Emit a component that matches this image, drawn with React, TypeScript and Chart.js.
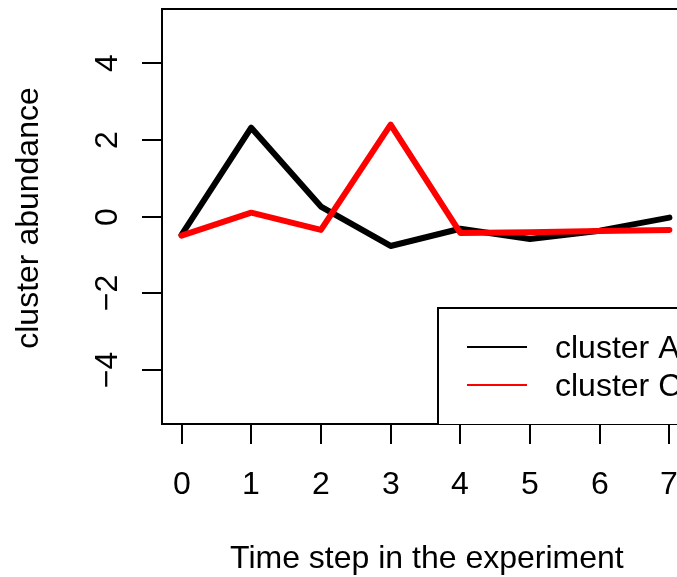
import React, { useEffect, useRef } from "react";
import { Chart, registerables } from "chart.js";

Chart.register(...registerables);

const timeSteps = [0, 1, 2, 3, 4, 5, 6, 7];
const clusterA = [-0.48, 2.32, 0.26, -0.77, -0.32, -0.59, -0.37, -0.03];
const clusterC = [-0.5, 0.1, -0.35, 2.4, -0.43, -0.41, -0.38, -0.35];
const xTickValues = [0, 1, 2, 3, 4, 5, 6, 7];
const yTickValues = [-4, -2, 0, 2, 4];
const legendLabels = ["cluster A", "cluster C"];
const seriesColors = ["#000000", "#ff0000"];
const xTitle = "Time step in the experiment";
const yTitle = "cluster abundance";

const FONT = '"Liberation Sans", Arial, Helvetica, sans-serif';
const FS = 32;

const axesPlugin = {
  id: "rAxes",
  afterDraw(chart: any) {
    const ctx = chart.ctx as CanvasRenderingContext2D;
    const { left, top, bottom, right } = chart.chartArea;
    const xs = chart.scales.x;
    const ys = chart.scales.y;
    ctx.save();
    ctx.strokeStyle = "#000";
    ctx.fillStyle = "#000";
    ctx.lineWidth = 2;
    ctx.lineCap = "butt";
    ctx.beginPath();
    ctx.moveTo(right + 20, top);
    ctx.lineTo(left, top);
    ctx.lineTo(left, bottom);
    ctx.lineTo(right + 20, bottom);
    ctx.stroke();

    ctx.font = `${FS}px ${FONT}`;
    ctx.textAlign = "center";
    ctx.textBaseline = "alphabetic";
    xTickValues.forEach((v) => {
      const px = Math.round(xs.getPixelForValue(v));
      ctx.beginPath();
      ctx.moveTo(px, bottom);
      ctx.lineTo(px, bottom + 20);
      ctx.stroke();
      ctx.fillText(String(v), px, 494);
    });
    yTickValues.forEach((v) => {
      const py = Math.round(ys.getPixelForValue(v));
      ctx.beginPath();
      ctx.moveTo(left, py);
      ctx.lineTo(left - 20, py);
      ctx.stroke();
      ctx.save();
      ctx.translate(117, py);
      ctx.rotate(-Math.PI / 2);
      ctx.textAlign = "center";
      ctx.fillText(v < 0 ? "\u2212" + Math.abs(v) : String(v), 0, 0);
      ctx.restore();
    });
    ctx.textAlign = "center";
    ctx.fillText(xTitle, xs.getPixelForValue(3.52), 568);
    ctx.save();
    ctx.translate(38, 218);
    ctx.rotate(-Math.PI / 2);
    ctx.fillText(yTitle, 0, 0);
    ctx.restore();

    const lx = 438;
    const ly = 308;
    ctx.fillStyle = "#fff";
    ctx.fillRect(lx, ly, right + 40 - lx, bottom - ly);
    ctx.beginPath();
    ctx.moveTo(lx, bottom);
    ctx.lineTo(lx, ly);
    ctx.lineTo(right + 40, ly);
    ctx.stroke();
    const rows = [347, 385];
    legendLabels.forEach((lab, i) => {
      ctx.strokeStyle = seriesColors[i];
      ctx.lineWidth = 2;
      ctx.beginPath();
      ctx.moveTo(467, rows[i]);
      ctx.lineTo(527, rows[i]);
      ctx.stroke();
      ctx.fillStyle = "#000";
      ctx.textAlign = "left";
      ctx.textBaseline = "alphabetic";
      ctx.fillText(lab, 555, rows[i] + 11);
    });
    ctx.restore();
  },
};

export default function App() {
  const ref = useRef<HTMLCanvasElement | null>(null);
  useEffect(() => {
    if (!ref.current) return;
    const chart = new Chart(ref.current, {
      type: "line",
      data: {
        datasets: [
          {
            label: legendLabels[0],
            data: timeSteps.map((t, i) => ({ x: t, y: clusterA[i] })),
            borderColor: seriesColors[0],
            borderWidth: 6,
            pointRadius: 0,
            borderJoinStyle: "round",
            borderCapStyle: "round",
            order: 2,
          },
          {
            label: legendLabels[1],
            data: timeSteps.map((t, i) => ({ x: t, y: clusterC[i] })),
            borderColor: seriesColors[1],
            borderWidth: 6,
            pointRadius: 0,
            borderJoinStyle: "round",
            borderCapStyle: "round",
            order: 1,
          },
        ],
      },
      options: {
        responsive: false,
        animation: false,
        layout: { padding: { left: 162, top: 9, right: 0, bottom: 153 } },
        plugins: { legend: { display: false }, tooltip: { enabled: false } },
        scales: {
          x: { type: "linear", min: -0.28, max: 7.109, display: false },
          y: { type: "linear", min: -5.42, max: 5.42, display: false },
        },
      },
      plugins: [axesPlugin],
    });
    return () => chart.destroy();
  }, []);
  return (
    <div style={{ position: "fixed", left: 0, top: 0, width: 677, height: 577, background: "#fff" }}>
      <canvas ref={ref} width={677} height={577} style={{ display: "block" }} />
    </div>
  );
}
